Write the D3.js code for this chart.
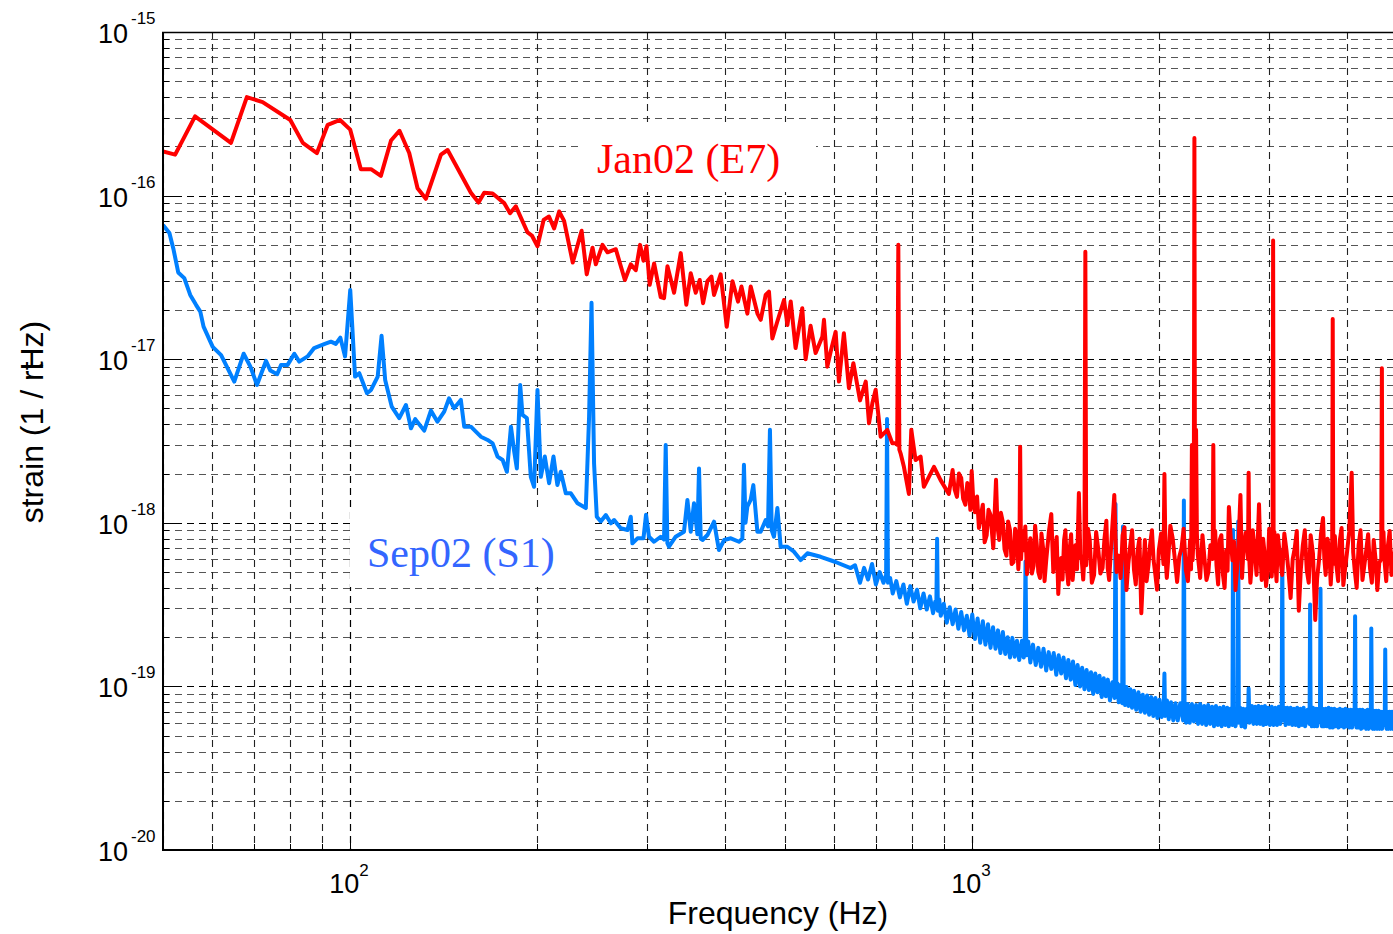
<!DOCTYPE html>
<meta charset="utf-8">
<script src="https://cdn.jsdelivr.net/npm/d3@7"></script>
<style>
  body { margin: 0; background: #fff; }
  .tick { font-family: "Liberation Sans", Arial, sans-serif; fill: #000; }
  .title { font-family: "Liberation Sans", Arial, sans-serif; font-size: 32px; fill: #000; }
  .lbl { font-family: "Liberation Serif", "Times New Roman", serif; font-size: 42px; }
</style>
<div id="chart"></div>
<script>

// Jan02 (E7) spectrum (Hz, strain / rtHz)
var janLowFreq = [50, 52.3, 56.3, 64.3, 68.2, 72.3, 80.1, 83.9, 88.4, 92, 96.3, 100, 104, 108, 112, 116.3, 120, 124.4, 128.3, 132.3,
  139.9, 143.4, 156.3, 160.8, 164.2, 169.4, 176.8, 180.7, 184.6, 192.8, 195.9, 200, 204.6, 208.7, 212.7, 216.7, 220.7, 227.9, 235.5, 240,
  245.2, 248.2, 254.4, 259.2, 267.3, 276.4, 282.5, 287.8, 292.4, 296.1, 299.4, 303, 308, 315.6, 319.5, 323.6, 331.6, 339.9, 347, 352.7,
  359.3, 364.7, 369.2, 375.2, 380.8, 384.5, 394, 403, 411.6, 420.2, 425.6, 435, 440.4, 451.5, 457, 465.5, 471.2, 477.1, 486, 498.2,
  504.5, 510.7, 520, 533, 539.7, 549.7, 560, 574.1, 577.6, 584.8, 592, 603.1, 610.5, 621.8, 633.5, 644, 660, 674.2, 682.4, 691,
  699.4, 712.5, 730.3, 744, 753, 757.5, 760.6, 763.5, 767, 776.5, 791, 798, 810.7, 826, 836, 868, 889, 917];
var janLowStrain = [1.86e-16, 1.78e-16, 3.05e-16, 2.1e-16, 4.0e-16, 3.73e-16, 2.9e-16, 2.1e-16, 1.82e-16, 2.71e-16, 2.9e-16, 2.53e-16, 1.45e-16, 1.45e-16, 1.32e-16, 2.17e-16, 2.49e-16, 1.82e-16, 1.11e-16, 9.56e-17,
  1.78e-16, 1.9e-16, 1.04e-16, 9.07e-17, 1.04e-16, 1.03e-16, 9.0e-17, 7.8e-17, 8.6e-17, 5.95e-17, 5.7e-17, 4.9e-17, 7.1e-17, 7.45e-17, 6.3e-17, 8.0e-17, 7.0e-17, 3.9e-17, 6.1e-17, 3.3e-17,
  4.8e-17, 3.8e-17, 5.0e-17, 4.5e-17, 4.7e-17, 3.05e-17, 3.8e-17, 3.5e-17, 5.0e-17, 4.0e-17, 4.9e-17, 2.85e-17, 3.85e-17, 2.4e-17, 2.36e-17, 3.7e-17, 2.55e-17, 4.45e-17, 2.15e-17, 3.35e-17,
  2.55e-17, 3.05e-17, 2.2e-17, 3.0e-17, 3.2e-17, 2.47e-17, 3.3e-17, 1.58e-17, 3.0e-17, 2.25e-17, 2.78e-17, 1.9e-17, 2.78e-17, 1.9e-17, 1.74e-17, 2.47e-17, 2.59e-17, 1.34e-17, 1.7e-17, 2.3e-17,
  1.62e-17, 2.25e-17, 1.17e-17, 2.05e-17, 1.0e-17, 1.6e-17, 1.09e-17, 1.37e-17, 1.74e-17, 9.0e-18, 1.11e-17, 1.47e-17, 7.3e-18, 1.44e-17, 6.65e-18, 9.45e-18, 5.6e-18, 7.3e-18, 4.06e-18, 5.4e-18,
  6.5e-18, 3.36e-18, 3.7e-18, 3.06e-18, 3.06e-18, 3.0e-18, 5.0e-17, 2.8e-18, 2.66e-18, 2.2e-18, 1.5e-18, 3.7e-18, 2.42e-18, 2.54e-18, 1.66e-18, 2.2e-18, 1.83e-18, 1.5e-18];

var janHighFreq = [930, 937, 945, 952, 960, 967, 975, 982, 988, 993,
  998, 1004, 1010, 1018, 1025, 1032, 1040, 1047, 1055, 1062,
  1070, 1081, 1092, 1098, 1105, 1112, 1120, 1127, 1135, 1142,
  1150, 1157, 1165, 1172, 1180, 1186, 1191, 1194, 1198, 1204,
  1210, 1217, 1225, 1232, 1240, 1247, 1255, 1262, 1270, 1277,
  1285, 1292, 1300, 1307, 1315, 1328, 1340, 1350, 1360, 1367,
  1375, 1382, 1390, 1397, 1405, 1412, 1420, 1427, 1435, 1442,
  1450, 1457, 1465, 1474, 1484, 1492, 1500, 1508, 1515, 1520,
  1525, 1535, 1545, 1557, 1570, 1582, 1595, 1607, 1620, 1631,
  1643, 1651, 1660, 1676, 1692, 1706, 1720, 1732, 1745, 1757,
  1770, 1782, 1795, 1807, 1820, 1832, 1845, 1857, 1870, 1882,
  1895, 1907, 1920, 1932, 1945, 1957, 1970, 1982, 1995, 2012,
  2030, 2037, 2045, 2055, 2065, 2082, 2100, 2117, 2135, 2152,
  2170, 2187, 2205, 2222, 2240, 2248, 2255, 2261, 2268, 2271,
  2276, 2281, 2290, 2297, 2305, 2325, 2345, 2362, 2380, 2397,
  2415, 2435, 2441, 2447, 2458, 2470, 2485, 2500, 2515, 2530,
  2545, 2560, 2573, 2586, 2603, 2620, 2635, 2650, 2675, 2699,
  2715, 2730, 2752, 2775, 2782, 2790, 2800, 2810, 2825, 2840,
  2865, 2891, 2905, 2920, 2935, 2950, 2967, 2985, 3002, 3020,
  3030, 3040, 3046, 3052, 3060, 3070, 3085, 3100, 3125, 3150,
  3175, 3200, 3225, 3250, 3275, 3300, 3325, 3350, 3375, 3400,
  3425, 3450, 3475, 3500, 3530, 3560, 3585, 3610, 3637, 3664,
  3682, 3700, 3725, 3750, 3770, 3790, 3798, 3806, 3828, 3850,
  3875, 3900, 3925, 3950, 3975, 4000, 4037, 4074, 4097, 4120,
  4150, 4180, 4210, 4240, 4270, 4300, 4330, 4360, 4390, 4420,
  4450, 4480, 4512, 4545, 4556, 4566, 4583, 4600, 4630, 4660,
  4690, 4720, 4750, 4780, 4810, 4840, 4870, 4900, 4930, 4960,
  4980, 5000];
var janHighStrain = [2.1e-18, 1.6e-18, 1.44e-18, 2.0e-18, 1.88e-18, 1.4e-18, 1.29e-18, 1.75e-18, 1.63e-18, 1.2e-18,
  2.07e-18, 1.35e-18, 1.16e-18, 1.45e-18, 9.3e-19, 1.1e-18, 1.29e-18, 7.6e-19, 8.4e-19, 1.2e-18,
  1.12e-18, 7.0e-19, 1.83e-18, 9.5e-19, 7.85e-19, 1.15e-18, 1.01e-18, 6.9e-19, 6.3e-19, 1.02e-18,
  9.0e-19, 5.6e-19, 5.75e-19, 9.2e-19, 8.4e-19, 5.2e-19, 7.0e-19, 2.92e-18, 6.0e-19, 8.9e-19,
  6.8e-19, 9.5e-19, 4.85e-19, 6.5e-19, 8.05e-19, 4.9e-19, 5.45e-19, 9.6e-19, 7.3e-19, 5.0e-19,
  4.6e-19, 8.6e-19, 7.0e-19, 4.4e-19, 5.9e-19, 8.8e-19, 1.13e-18, 5.0e-19, 6.6e-19, 8.2e-19,
  3.67e-19, 5.4e-19, 6.1e-19, 4.5e-19, 7.85e-19, 9.0e-19, 5.14e-19, 4.2e-19, 7.0e-19, 8.5e-19,
  4.47e-19, 5.6e-19, 7.3e-19, 5.2e-19, 1.52e-18, 6.4e-19, 5.9e-19, 4.5e-19, 6.36e-19, 4.53e-17,
  5.5e-19, 9.2e-19, 7.85e-19, 4.3e-19, 4.8e-19, 8.8e-19, 6.8e-19, 4.9e-19, 5.3e-19, 7.9e-19,
  1.03e-18, 5.3e-19, 4.47e-19, 8.3e-19, 1.48e-18, 5.0e-19, 6.3e-19, 4.6e-19, 8.4e-19, 9.4e-19,
  3.88e-19, 5.6e-19, 7.3e-19, 9.0e-19, 5.14e-19, 4.2e-19, 6.8e-19, 8.0e-19, 2.8e-19, 4.8e-19,
  7.85e-19, 4.4e-19, 5.5e-19, 7.4e-19, 9.0e-19, 5.9e-19, 4.8e-19, 3.9e-19, 6.8e-19, 8.6e-19,
  5.6e-19, 1.99e-18, 6.2e-19, 4.6e-19, 5.9e-19, 9.6e-19, 8.05e-19, 6.0e-19, 4.35e-19, 6.2e-19,
  7.0e-19, 9.2e-19, 5.14e-19, 4.4e-19, 7.85e-19, 5.2e-19, 2.99e-18, 5.9e-19, 8.0e-19, 1.04e-18,
  2.25e-16, 9.0e-19, 3.7e-18, 8.6e-19, 6.36e-19, 4.6e-19, 8.4e-19, 6.1e-19, 4.47e-19, 5.0e-19,
  7.3e-19, 6.0e-19, 2.99e-18, 6.5e-19, 8.9e-19, 5.5e-19, 4.2e-19, 7.85e-19, 8.4e-19, 4.8e-19,
  4.0e-19, 6.8e-19, 5.1e-19, 1.25e-18, 8.2e-19, 5.9e-19, 7.7e-19, 3.88e-19, 6.4e-19, 1.48e-18,
  4.6e-19, 7.0e-19, 8.7e-19, 6.0e-19, 2.02e-18, 5.8e-19, 4.3e-19, 5.14e-19, 9.0e-19, 7.3e-19,
  4.8e-19, 1.3e-18, 6.5e-19, 4.47e-19, 8.0e-19, 6.6e-19, 4.1e-19, 5.14e-19, 9.2e-19, 7.85e-19,
  4.7e-19, 6.0e-19, 5.31e-17, 5.5e-19, 8.8e-19, 5.9e-19, 4.4e-19, 8.4e-19, 6.2e-19, 4.8e-19,
  8.6e-19, 6.8e-19, 5.0e-19, 3.47e-19, 6.0e-19, 7.0e-19, 8.9e-19, 2.9e-19, 5.2e-19, 7.3e-19,
  9.0e-19, 5.14e-19, 4.3e-19, 8.4e-19, 6.5e-19, 2.55e-19, 4.6e-19, 5.9e-19, 8.6e-19, 1.07e-18,
  6.0e-19, 4.8e-19, 8.0e-19, 6.8e-19, 4.2e-19, 6.0e-19, 1.76e-17, 5.6e-19, 8.3e-19, 5.5e-19,
  4.4e-19, 7.85e-19, 9.3e-19, 4.16e-19, 5.2e-19, 6.36e-19, 8.8e-19, 2.02e-18, 6.6e-19, 5.14e-19,
  4.0e-19, 7.3e-19, 9.0e-19, 4.47e-19, 5.5e-19, 6.8e-19, 8.5e-19, 5.3e-19, 4.3e-19, 7.85e-19,
  6.0e-19, 3.88e-19, 5.7e-19, 6.0e-19, 8.81e-18, 6.2e-19, 8.8e-19, 5.9e-19, 4.4e-19, 7.3e-19,
  8.9e-19, 4.8e-19, 5.6e-19, 6.8e-19, 8.6e-19, 5.5e-19, 4.2e-19, 7.85e-19, 6.4e-19, 5.14e-19,
  4.5e-19, 6.36e-19];

// Sep02 (S1) spectrum
var sepLowFreq = [50, 51.2, 52.0, 52.9, 54.1, 55.3, 56.5, 57.4, 58.1, 60.1, 62.0, 63.5, 65.1, 67.4, 69.1, 70.8, 73.2, 74.4, 76.3, 77.4,
  79.3, 81.3, 82.8, 85.4, 87.5, 90.8, 93.1, 94.8, 96.4, 98.1, 100, 101.8, 103.4, 106.4, 108, 110.7, 112.3, 113.8, 116.6, 119.9,
  122.9, 125.2, 127.2, 131.5, 134.8, 138.1, 141.6, 144.2, 146.9, 150.6, 152.5, 156.3, 159.2, 162.2, 166.3, 169.4, 172.5, 175.8, 178.6, 181.3,
  183.5, 185.3, 187.6, 189.2, 192.3, 195.1, 197.5, 200, 202.5, 205.5, 208.8, 212.2, 215.3, 218, 222.1, 226.3, 232, 239.2, 242.1, 244.3,
  246.6, 249.1, 252.8, 257.6, 262.4, 265.6, 272.2, 279.1, 282.5, 284.2, 289.6, 296.1, 298.9, 302.2, 307.9, 315.6, 319.5, 321.5, 323.5, 325.4,
  333.6, 344, 348.4, 352.7, 357, 361.5, 363.7, 366, 368.4, 375.2, 384.5, 391.5, 399.2, 409.2, 421.7, 427, 429.5, 432, 434.9, 440.3,
  444.7, 451.4, 456.9, 465.5, 469.5, 472.9, 476, 480, 486.1, 492, 504.4, 516.9, 529.8, 543.2, 570.5, 603, 637.5];
var sepLowStrain = [6.6e-17, 5.9e-17, 4.66e-17, 3.39e-17, 3.13e-17, 2.47e-17, 2.15e-17, 1.955e-17, 1.58e-17, 1.19e-17, 1.06e-17, 8.81e-18, 7.3e-18, 1.08e-17, 9.01e-18, 6.96e-18, 9.76e-18, 8.52e-18, 8.09e-18, 9.23e-18,
  9.23e-18, 1.08e-17, 9.67e-18, 1.04e-17, 1.17e-17, 1.235e-17, 1.28e-17, 1.24e-17, 1.355e-17, 1.04e-17, 2.65e-17, 7.83e-18, 8.21e-18, 6.19e-18, 6.49e-18, 7.83e-18, 1.39e-17, 7.47e-18, 5.13e-18, 4.36e-18,
  5.25e-18, 3.78e-18, 4.3e-18, 3.66e-18, 4.85e-18, 4.15e-18, 4.78e-18, 5.77e-18, 5.01e-18, 5.64e-18, 3.87e-18, 3.87e-18, 3.61e-18, 3.36e-18, 3.21e-18, 3.06e-18, 2.54e-18, 2.42e-18, 2.05e-18, 3.87e-18,
  2.72e-18, 2.15e-18, 6.96e-18, 4.56e-18, 4.36e-18, 1.91e-18, 1.66e-18, 6.49e-18, 1.91e-18, 2.54e-18, 1.745e-18, 2.54e-18, 1.70e-18, 2.05e-18, 1.515e-18, 1.515e-18, 1.316e-18, 1.23e-18, 4.46e-18, 2.21e-17,
  2.31e-18, 1.09e-18, 1.02e-18, 1.116e-18, 9.93e-19, 1.04e-18, 9.26e-19, 9.04e-19, 1.09e-18, 7.49e-19, 8.04e-19, 8.04e-19, 1.12e-18, 8.22e-19, 7.66e-19, 8.22e-19, 7.9e-19, 2.99e-18, 7.5e-19, 7.14e-19,
  8.22e-19, 8.82e-19, 1.38e-18, 8.82e-19, 1.316e-18, 8.5e-19, 2.15e-18, 8.0e-19, 7.85e-19, 8.42e-19, 1.016e-18, 6.82e-19, 7.85e-19, 8.04e-19, 7.66e-19, 8.0e-19, 2.26e-18, 1.0e-18, 1.254e-18, 1.38e-18,
  1.70e-18, 8.82e-19, 8.82e-19, 1.04e-18, 9.5e-19, 3.70e-18, 9.0e-19, 8.22e-19, 1.23e-18, 7.14e-19, 7.14e-19, 6.66e-19, 5.92e-19, 6.51e-19, 6.2e-19, 5.76e-19, 5.29e-19];

var sepHighFreq = [648, 660, 670, 680, 690, 700, 710, 720, 727, 729.5,
  732, 738, 745, 755, 765, 775, 785, 795, 805, 815,
  825, 835, 845, 855, 865, 872, 875.5, 878, 880.5, 885,
  890, 900, 910, 920, 930, 940, 950, 960, 970, 980,
  990, 1000, 1010, 1020, 1030, 1040, 1050, 1060, 1070, 1080,
  1090, 1100, 1110, 1120, 1130, 1140, 1150, 1160, 1170, 1180,
  1190, 1202, 1210, 1214, 1218, 1222, 1230, 1240, 1252, 1265,
  1277, 1290, 1302, 1315, 1327, 1340, 1352, 1365, 1377, 1390,
  1402, 1415, 1427, 1440, 1452, 1465, 1477, 1490, 1502, 1515,
  1527, 1540, 1552, 1565, 1577, 1590, 1602, 1615, 1627, 1640,
  1652, 1665, 1680, 1694, 1699.5, 1705, 1712, 1720, 1731, 1742,
  1747, 1752, 1761, 1770, 1782, 1795, 1807, 1820, 1835, 1850,
  1865, 1880, 1895, 1910, 1925, 1940, 1955, 1970, 1985, 2000,
  2016, 2032, 2037, 2042, 2056, 2070, 2087, 2105, 2122, 2140,
  2160, 2183, 2189, 2195, 2207, 2220, 2237, 2255, 2272, 2290,
  2307, 2325, 2342, 2360, 2377, 2395, 2412, 2430, 2447, 2465,
  2482, 2500, 2517, 2535, 2552, 2570, 2585, 2600, 2620, 2626,
  2632, 2650, 2671, 2677, 2683, 2696, 2710, 2727, 2745, 2763,
  2775, 2782, 2790, 2815, 2832, 2850, 2867, 2885, 2902, 2920,
  2937, 2955, 2972, 2990, 3010, 3030, 3050, 3070, 3090, 3110,
  3127, 3144, 3151, 3158, 3175, 3190, 3210, 3230, 3250, 3270,
  3290, 3310, 3330, 3350, 3370, 3390, 3410, 3430, 3460, 3486,
  3493, 3500, 3515, 3530, 3550, 3570, 3585, 3600, 3622, 3630,
  3638, 3650, 3660, 3680, 3700, 3720, 3740, 3760, 3780, 3800,
  3820, 3840, 3860, 3880, 3900, 3920, 3940, 3960, 3980, 4000,
  4020, 4040, 4060, 4080, 4100, 4118, 4126, 4134, 4147, 4160,
  4180, 4200, 4220, 4240, 4260, 4280, 4300, 4320, 4340, 4360,
  4372, 4381, 4390, 4405, 4420, 4440, 4460, 4480, 4500, 4520,
  4540, 4560, 4580, 4604, 4613, 4622, 4636, 4650, 4670, 4690,
  4710, 4730, 4750, 4770, 4800, 4830, 4860, 4890, 4920, 4950,
  4980, 5000];
var sepHighStrain = [5.5e-19, 4.3e-19, 5.3e-19, 4.5e-19, 5.6e-19, 4.2e-19, 5.0e-19, 4.3e-19, 4.8e-19, 4.31e-18,
  4.3e-19, 4.6e-19, 3.7e-19, 4.4e-19, 3.5e-19, 4.2e-19, 3.2e-19, 4.1e-19, 3.3e-19, 3.9e-19,
  3.0e-19, 3.7e-19, 2.95e-19, 3.55e-19, 2.8e-19, 3.3e-19, 3.0e-19, 8.0e-19, 2.9e-19, 3.4e-19,
  2.7e-19, 3.2e-19, 2.45e-19, 3.05e-19, 2.4e-19, 2.95e-19, 2.25e-19, 2.85e-19, 2.2e-19, 2.7e-19,
  2.05e-19, 2.75e-19, 1.95e-19, 2.6e-19, 1.85e-19, 2.5e-19, 1.8e-19, 2.4e-19, 1.72e-19, 2.3e-19,
  1.7e-19, 2.2e-19, 1.6e-19, 2.15e-19, 1.58e-19, 2.0e-19, 1.5e-19, 1.98e-19, 1.52e-19, 1.9e-19,
  1.45e-19, 1.9e-19, 1.5e-19, 1.65e-19, 5.8e-19, 1.55e-19, 1.88e-19, 1.4e-19, 1.8e-19, 1.35e-19,
  1.72e-19, 1.32e-19, 1.7e-19, 1.25e-19, 1.62e-19, 1.28e-19, 1.6e-19, 1.18e-19, 1.55e-19, 1.2e-19,
  1.5e-19, 1.12e-19, 1.45e-19, 1.1e-19, 1.42e-19, 1.02e-19, 1.35e-19, 1.0e-19, 1.3e-19, 9.6e-20,
  1.26e-19, 9.5e-20, 1.22e-19, 9.0e-20, 1.2e-19, 9.2e-20, 1.16e-19, 8.6e-20, 1.12e-19, 8.7e-20,
  1.1e-19, 8.2e-20, 1.06e-19, 8.5e-20, 1.305e-18, 8.6e-20, 1.04e-19, 8.0e-20, 1.02e-19, 7.9e-20,
  9.5e-19, 8.4e-20, 7.7e-20, 9.9e-20, 7.6e-20, 9.6e-20, 7.4e-20, 9.4e-20, 7.2e-20, 9.2e-20,
  7.0e-20, 8.9e-20, 6.9e-20, 8.8e-20, 6.7e-20, 8.6e-20, 6.6e-20, 8.5e-20, 6.4e-20, 8.3e-20,
  6.5e-20, 7.9e-20, 1.2e-19, 6.6e-20, 8.2e-20, 6.3e-20, 8.0e-20, 6.2e-20, 7.9e-20, 6.2e-20,
  7.9e-20, 6.2e-20, 1.37e-18, 6.6e-20, 6.0e-20, 7.8e-20, 6.0e-20, 7.8e-20, 6.1e-20, 7.7e-20,
  5.9e-20, 7.8e-20, 5.9e-20, 7.6e-20, 5.8e-20, 7.7e-20, 5.9e-20, 7.5e-20, 5.7e-20, 7.6e-20,
  5.8e-20, 7.4e-20, 5.7e-20, 7.5e-20, 5.8e-20, 7.4e-20, 5.7e-20, 7.3e-20, 5.8e-20, 9.04e-19,
  6.4e-20, 5.7e-20, 7.2e-20, 1.02e-18, 6.0e-20, 7.4e-20, 5.7e-20, 7.3e-20, 5.6e-20, 7.3e-20,
  6.2e-20, 9.7e-20, 6.0e-20, 7.6e-20, 5.9e-20, 7.5e-20, 5.9e-20, 7.6e-20, 5.9e-20, 7.5e-20,
  5.8e-20, 7.6e-20, 5.9e-20, 7.4e-20, 5.8e-20, 7.5e-20, 5.8e-20, 7.4e-20, 5.8e-20, 7.5e-20,
  5.9e-20, 6.6e-20, 6.76e-19, 6.2e-20, 7.4e-20, 5.8e-20, 7.4e-20, 5.9e-20, 7.4e-20, 5.8e-20,
  7.3e-20, 5.8e-20, 7.4e-20, 5.7e-20, 7.3e-20, 5.8e-20, 7.4e-20, 5.7e-20, 7.2e-20, 5.9e-20,
  3.17e-19, 6.3e-20, 5.7e-20, 7.4e-20, 5.7e-20, 7.3e-20, 5.7e-20, 7.3e-20, 6.1e-20, 3.95e-19,
  6.2e-20, 5.7e-20, 7.3e-20, 5.7e-20, 7.3e-20, 5.7e-20, 7.4e-20, 5.6e-20, 7.3e-20, 5.6e-20,
  7.3e-20, 5.7e-20, 7.2e-20, 5.6e-20, 7.3e-20, 5.7e-20, 7.2e-20, 5.6e-20, 7.3e-20, 5.7e-20,
  7.2e-20, 5.6e-20, 7.2e-20, 5.6e-20, 7.2e-20, 5.9e-20, 2.68e-19, 6.3e-20, 5.6e-20, 7.2e-20,
  5.6e-20, 7.2e-20, 5.5e-20, 7.2e-20, 5.6e-20, 7.1e-20, 5.5e-20, 7.2e-20, 5.5e-20, 7.1e-20,
  5.9e-20, 2.26e-19, 6.3e-20, 5.5e-20, 7.1e-20, 5.5e-20, 7.1e-20, 5.5e-20, 7.1e-20, 5.5e-20,
  7.0e-20, 5.5e-20, 7.0e-20, 5.8e-20, 1.68e-19, 6.2e-20, 5.5e-20, 7.0e-20, 5.5e-20, 7.0e-20,
  5.5e-20, 7.0e-20, 5.5e-20, 6.9e-20, 5.5e-20, 6.9e-20, 5.5e-20, 6.9e-20, 5.5e-20, 6.9e-20,
  5.5e-20, 6.8e-20];

// axis ticks
var xTickValues = [100, 1000];
var xTickExp = ["2", "3"];
var yTickValues = [1e-15, 1e-16, 1e-17, 1e-18, 1e-19, 1e-20];
var yTickExp = ["-15", "-16", "-17", "-18", "-19", "-20"];

var janFreq = janLowFreq.concat(janHighFreq), janStrain = janLowStrain.concat(janHighStrain);
var sepFreq = sepLowFreq.concat(sepHighFreq), sepStrain = sepLowStrain.concat(sepHighStrain);

var width = 1393, height = 934;

var svg = d3.select("#chart")
    .append("svg")
    .attr("width", width)
    .attr("height", height);

var x = d3.scaleLog().domain([50, 5000]).range([163, 1407]);
var y = d3.scaleLog().domain([1e-20, 1e-15]).range([850, 32]);

// grid lines
var xMinor = [], xMajor = [];
[10, 100, 1000].forEach(function(dec) {
  for (var m = 1; m <= 9; m++) {
    var v = m * dec;
    if (v < 50 || v >= 5000) continue;
    if (m == 1) xMajor.push(v); else xMinor.push(v);
  }
});
var yMinor = [], yMajor = [];
for (var e = -20; e <= -15; e++) {
  yMajor.push(Math.pow(10, e));
  if (e < -15) for (var m = 2; m <= 9; m++) yMinor.push(m * Math.pow(10, e));
}

var grid = svg.append("g");
grid.selectAll(".hminor").data(yMinor).enter().append("line")
    .attr("x1", 163).attr("x2", 1407)
    .attr("y1", d => Math.round(y(d)) + 0.5).attr("y2", d => Math.round(y(d)) + 0.5)
    .style("stroke", "#555").style("stroke-width", 1.2).style("stroke-dasharray", "7,5");
grid.selectAll(".vminor").data(xMinor).enter().append("line")
    .attr("x1", d => Math.round(x(d)) + 0.5).attr("x2", d => Math.round(x(d)) + 0.5)
    .attr("y1", 32).attr("y2", 850)
    .style("stroke", "#222").style("stroke-width", 1.1).style("stroke-dasharray", "7,5");
grid.selectAll(".hmajor").data(yMajor).enter().append("line")
    .attr("x1", 163).attr("x2", 1407)
    .attr("y1", d => Math.round(y(d)) + 0.5).attr("y2", d => Math.round(y(d)) + 0.5)
    .style("stroke", "#000").style("stroke-width", 1.2).style("stroke-dasharray", "7,5");
grid.selectAll(".vmajor").data(xMajor).enter().append("line")
    .attr("x1", d => Math.round(x(d)) + 0.5).attr("x2", d => Math.round(x(d)) + 0.5)
    .attr("y1", 32).attr("y2", 850)
    .style("stroke", "#000").style("stroke-width", 1.2).style("stroke-dasharray", "7,5");

// small inward ticks
grid.selectAll(".yt").data(yMinor.concat(yMajor)).enter().append("line")
    .attr("x1", 163).attr("x2", d => yMajor.indexOf(d) >= 0 ? 175 : 169)
    .attr("y1", d => Math.round(y(d)) + 0.5).attr("y2", d => Math.round(y(d)) + 0.5)
    .style("stroke", "#000").style("stroke-width", 1);
grid.selectAll(".xt").data(xMinor.concat(xMajor)).enter().append("line")
    .attr("x1", d => Math.round(x(d)) + 0.5).attr("x2", d => Math.round(x(d)) + 0.5)
    .attr("y1", 850).attr("y2", d => xMajor.indexOf(d) >= 0 ? 838 : 844)
    .style("stroke", "#000").style("stroke-width", 1);

// curves
svg.append("clipPath").attr("id", "plotclip")
  .append("rect").attr("x", 163).attr("y", 32).attr("width", 1244).attr("height", 818);

var line = d3.line().x(d => x(d[0])).y(d => y(d[1]));

var curves = svg.append("g").attr("clip-path", "url(#plotclip)");
curves.append("path")
    .datum(d3.zip(sepFreq, sepStrain))
    .attr("d", line)
    .style("fill", "none").style("stroke", "#0080ff").style("stroke-width", 4)
    .style("stroke-linejoin", "round");
curves.append("path")
    .datum(d3.zip(janFreq, janStrain))
    .attr("d", line)
    .style("fill", "none").style("stroke", "#ff0000").style("stroke-width", 4)
    .style("stroke-linejoin", "round");

// axis box
svg.append("line").attr("x1", 163).attr("x2", 163).attr("y1", 32).attr("y2", 851)
    .style("stroke", "#000").style("stroke-width", 2);
svg.append("line").attr("x1", 162).attr("x2", 1407).attr("y1", 850).attr("y2", 850)
    .style("stroke", "#000").style("stroke-width", 2);
svg.append("line").attr("x1", 162).attr("x2", 1407).attr("y1", 32.5).attr("y2", 32.5)
    .style("stroke", "#000").style("stroke-width", 1.5);

// tick labels
yTickValues.forEach(function(v, i) {
  var ty = y(v);
  svg.append("text").attr("class", "tick").attr("x", 128).attr("y", ty + 11)
      .attr("text-anchor", "end").style("font-size", "27px").text("10");
  svg.append("text").attr("class", "tick").attr("x", 131).attr("y", ty - 8)
      .style("font-size", "17px").text(yTickExp[i]);
});
xTickValues.forEach(function(v, i) {
  var tx = x(v);
  svg.append("text").attr("class", "tick").attr("x", tx + 9).attr("y", 893)
      .attr("text-anchor", "end").style("font-size", "27px").text("10");
  svg.append("text").attr("class", "tick").attr("x", tx + 9).attr("y", 876)
      .style("font-size", "17px").text(xTickExp[i]);
});

// axis titles
svg.append("text").attr("class", "title")
    .attr("x", 778).attr("y", 924).attr("text-anchor", "middle")
    .text("Frequency (Hz)");
var yt = svg.append("text").attr("class", "title")
    .attr("transform", "translate(43,422) rotate(-90)")
    .attr("text-anchor", "middle");
yt.append("tspan").text("strain (1 / rt");
yt.append("tspan").attr("dx", -9).text("Hz)");

// curve labels with white boxes
svg.append("rect").attr("x", 580).attr("y", 122).attr("width", 236).attr("height", 70).style("fill", "#fff");
svg.append("text").attr("class", "lbl").attr("x", 597).attr("y", 173)
    .style("fill", "#ff0000").text("Jan02 (E7)");
svg.append("rect").attr("x", 350).attr("y", 512).attr("width", 243).attr("height", 75).style("fill", "#fff");
svg.append("text").attr("class", "lbl").attr("x", 367).attr("y", 567)
    .style("fill", "#3366ff").text("Sep02 (S1)");

</script>
